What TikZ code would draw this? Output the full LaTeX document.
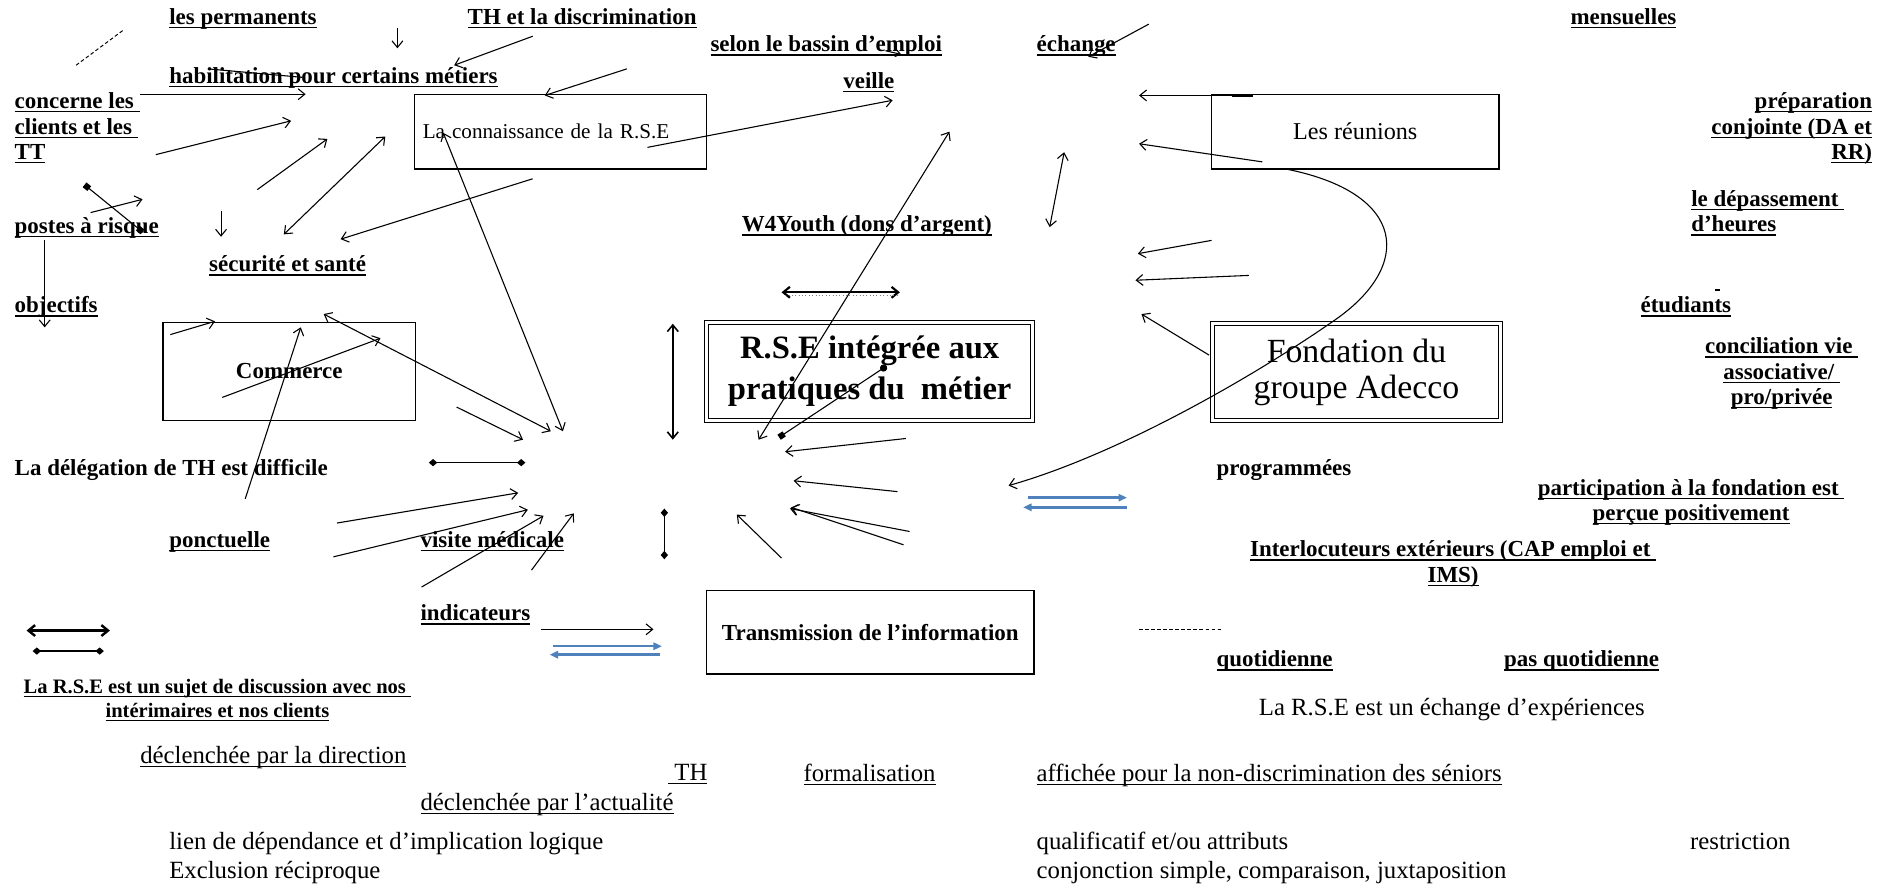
\documentclass[tikz,border=0pt]{standalone}
\usepackage{fontspec}
\setmainfont{Liberation Serif}
\usetikzlibrary{arrows.meta}
\definecolor{wblue}{RGB}{79,129,189}
\newcommand\myul[1]{\setbox0=\hbox{#1}\rlap{\vrule height -2pt depth 3.1pt width \wd0}\box0}
\begin{document}
\begin{tikzpicture}[x=1pt,y=-1pt,
  lab/.style={anchor=base west, inner sep=0pt, font=\fontsize{19}{21}\selectfont\bfseries},
  labr/.style={anchor=base west, inner sep=0pt, font=\fontsize{20.5}{23}\selectfont},
  txt/.style={anchor=base west, inner sep=0pt, font=\fontsize{20.5}{23}\selectfont},
  box/.style={draw, line width=1.1pt, inner sep=0pt},
  dbox/.style={draw, line width=0.8pt, double, double distance=2.4pt, inner sep=0pt},
  arr/.style={line width=0.9pt, -{Straight Barb[length=5.5pt,width=9pt]}},
  darr/.style={line width=0.9pt, {Straight Barb[length=5.5pt,width=9pt]}-{Straight Barb[length=5.5pt,width=9pt]}},
  dia/.style={line width=1.3pt, {Diamond[length=7pt,width=6pt]}-{Diamond[length=7pt,width=6pt]}},
  sqline/.style={line width=0.9pt, {Square[length=5pt]}-{Square[length=5pt]}},
  csline/.style={line width=0.9pt, {Circle[length=6pt]}-{Square[length=5pt]}},
  bluearr/.style={draw=wblue, line width=2pt, -{Triangle[length=7pt,width=6pt,fill=wblue]}},
  dline/.style={line width=0.8pt, dash pattern=on 3pt off 2pt}
]
\fill[white] (0,0) rectangle (1568,732);
\useasboundingbox (0,0) rectangle (1568,732);

% ---------- labels ----------
\node[lab] (permanents) at (140,20) {\myul{les permanents}};
\node[lab] (thdisc) at (387,20) {\myul{TH et la discrimination}};
\node[lab] (bassin) at (588,43) {\myul{selon le bassin d'emploi}};
\node[lab] (echange) at (858,43) {\myul{échange}};
\node[lab] (mensuelles) at (1300,20) {\myul{mensuelles}};
\node[lab] (habil) at (140,69) {\myul{habilitation pour certains métiers}};
\node[lab] (veille) at (698,73) {\myul{veille}};
\node[lab, align=left] (concerne) at (12,132) {\myul{concerne les\ }\\\myul{clients et les\ }\\\myul{TT}};
\node[lab, anchor=base east, align=right] (prep) at (1550,132) {\myul{préparation}\\\myul{conjointe (DA et}\\\myul{RR)}};
\node[lab, align=left] (depass) at (1400,192) {\myul{le dépassement\ }\\\myul{d'heures}};
\node[lab] (postes) at (12,193) {\myul{postes à risque}};
\node[lab] (w4y) at (614,192) {\myul{W4Youth (dons d'argent)}};
\node[lab] (secu) at (173,225) {\myul{sécurité et santé}};
\node[lab] (objectifs) at (12,259) {\myul{objectifs}};
\node[lab] (etudiants) at (1358,259) {\myul{étudiants}};
\node[lab, anchor=base, align=center] (concil) at (1475,335) {\myul{conciliation vie\ }\\\myul{associative/\ }\\\myul{pro/privée}};
\node[lab] (delegation) at (12,394) {La délégation de TH est difficile};
\node[lab] (programmees) at (1007,394) {programmées};
\node[lab, anchor=base, align=center] (particip) at (1400,431) {\myul{participation à la fondation est\ }\\\myul{perçue positivement}};
\node[lab] (ponctuelle) at (140,453) {\myul{ponctuelle}};
\node[lab] (visite) at (348,453) {\myul{visite médicale}};
\node[lab, anchor=base, align=center] (interloc) at (1203,482) {\myul{Interlocuteurs extérieurs (CAP emploi et\ }\\\myul{IMS)}};
\node[lab] (indicateurs) at (348,514) {\myul{indicateurs}};
\node[lab] (quotid) at (1007,552) {\myul{quotidienne}};
\node[lab] (pasquotid) at (1245,552) {\myul{pas quotidienne}};
\node[lab, anchor=base, align=center, font=\fontsize{17}{20}\selectfont\bfseries] (discussion) at (180,594) {\myul{La R.S.E est un sujet de discussion avec nos\ }\\\myul{intérimaires et nos clients}};
\node[txt] (echexp) at (1042,592) {La R.S.E est un échange d'expériences};
\node[labr] (direction) at (116,632) {\myul{déclenchée par la direction}};
\node[labr] (th) at (553,646) {\myul{\ TH}};
\node[labr] (formal) at (665,647) {\myul{formalisation}};
\node[labr] (affichee) at (858,647) {\myul{affichée pour la non-discrimination des séniors}};
\node[labr] (actualite) at (348,671) {\myul{déclenchée par l'actualité}};
\node[txt] (lien) at (140,703) {lien de dépendance et d'implication logique};
\node[txt] (qualif) at (858,703) {qualificatif et/ou attributs};
\node[txt] (restriction) at (1399,703) {restriction};
\node[txt] (exclusion) at (140,727) {Exclusion réciproque};
\node[txt] (conjonction) at (858,727) {conjonction simple, comparaison, juxtaposition};

% ---------- boxes ----------
\node[box, text width=228pt, align=left, inner xsep=7pt, minimum height=62pt, font=\fontsize{17.5}{20}\selectfont] (connaissance) at (464,109) {La connaissance de la R.S.E};
\node[box, minimum width=238pt, minimum height=62pt, font=\fontsize{20}{22}\selectfont] (reunions) at (1122,109) {Les réunions};
\node[box, minimum width=209pt, minimum height=81pt, font=\fontsize{19}{21}\selectfont\bfseries] (commerce) at (239.5,307.5) {Commerce};
\node[dbox, minimum width=270pt, minimum height=81pt, align=center, font=\fontsize{27}{34}\selectfont\bfseries] (rse) at (720,307.5) {R.S.E intégrée aux\\pratiques du\ \ métier};
\node[dbox, minimum width=238pt, minimum height=80pt, align=center, font=\fontsize{28}{30}\selectfont] (fondation) at (1123,308) {Fondation du\\groupe Adecco};
\node[box, minimum width=271pt, minimum height=69pt, font=\fontsize{19}{21}\selectfont\bfseries] (transmission) at (720.5,523.5) {Transmission de l'information};

% ---------- coordinates ----------
\coordinate (d1a) at (63,54);   \coordinate (d1b) at (102,25);
\coordinate (a2a) at (329,23);  \coordinate (a2b) at (329,40);
\coordinate (a3a) at (441,30);  \coordinate (a3b) at (376,54);
\coordinate (a4a) at (519,57);  \coordinate (a4b) at (451,79);
\coordinate (l5a) at (172,57);  \coordinate (l5b) at (250,64);
\coordinate (a6a) at (116,78);  \coordinate (a6b) at (253,78);
\coordinate (a7a) at (129,128); \coordinate (a7b) at (241,100);
\coordinate (a8a) at (213,157); \coordinate (a8b) at (271,115);
\coordinate (a9a) at (235,194); \coordinate (a9b) at (319,113);
\coordinate (s10a) at (70,153); \coordinate (s10b) at (118,192);
\coordinate (a11a) at (75,176); \coordinate (a11b) at (118,165);
\coordinate (a12a) at (183,175); \coordinate (a12b) at (183,196);
\coordinate (a13a) at (441,148); \coordinate (a13b) at (282,198);
\coordinate (a14a) at (37,199); \coordinate (a14b) at (37,271);
\coordinate (a15a) at (367,110); \coordinate (a15b) at (466,357);
\coordinate (a16a) at (536,122); \coordinate (a16b) at (739,83);
\coordinate (a17a) at (141,277); \coordinate (a17b) at (178,266);
\coordinate (a18a) at (184,329); \coordinate (a18b) at (315,280);
\coordinate (a19a) at (203,413); \coordinate (a19b) at (249,271);
\coordinate (a20a) at (268,260); \coordinate (a20b) at (456,357);
\coordinate (a21a) at (378,337); \coordinate (a21b) at (433,364);
\coordinate (x22a) at (355,383); \coordinate (x22b) at (435,383);
\coordinate (a23a) at (279,433); \coordinate (a23b) at (429,408);
\coordinate (a24a) at (276,461); \coordinate (a24b) at (437,422);
\coordinate (a25a) at (349,486); \coordinate (a25b) at (450,427);
\coordinate (a26a) at (440,472); \coordinate (a26b) at (475,425);
\coordinate (x27a) at (550,421); \coordinate (x27b) at (550,463);
\coordinate (a28a) at (557,268); \coordinate (a28b) at (557,364);
\coordinate (g29a) at (22,522); \coordinate (g29b) at (91,522);
\coordinate (g30a) at (27,539); \coordinate (g30b) at (86,539);
\coordinate (a31a) at (448,521); \coordinate (a31b) at (541,521);
\coordinate (b32a) at (458,535); \coordinate (b32b) at (548,535);
\coordinate (b32c) at (546,542); \coordinate (b32d) at (455,542);
\coordinate (a33a) at (733,42); \coordinate (a33b) at (746,45);
\coordinate (a34a) at (951,20); \coordinate (a34b) at (901,47);
\coordinate (a35a) at (786,109); \coordinate (a35b) at (628,364);
\coordinate (c36a) at (734,303); \coordinate (c36b) at (645,362);
\coordinate (a37a) at (750,363); \coordinate (a37b) at (650,374);
\coordinate (a38a) at (743,407); \coordinate (a38b) at (657,398);
\coordinate (a39a) at (753,440); \coordinate (a39b) at (654,421);
\coordinate (a40a) at (748,451); \coordinate (a40b) at (655,420);
\coordinate (a41a) at (647,462); \coordinate (a41b) at (610,426);
\coordinate (k42a) at (1065,140); \coordinate (k42m) at (1105,265); \coordinate (k42b) at (835,402);
\coordinate (b43a) at (851,412); \coordinate (b43b) at (933,412);
\coordinate (b43c) at (933,420); \coordinate (b43d) at (847,420);
\coordinate (d44a) at (943,521); \coordinate (d44b) at (1011,521);
\coordinate (a45a) at (1037,79); \coordinate (a45b) at (943,79);
\coordinate (t45a) at (1020,79);
\coordinate (a46a) at (1045,134); \coordinate (a46b) at (943,119);
\coordinate (a47a) at (881,126); \coordinate (a47b) at (869,188);
\coordinate (a48a) at (1003,199); \coordinate (a48b) at (942,210);
\coordinate (a49a) at (1034,228); \coordinate (a49b) at (940,232);
\coordinate (a50a) at (1001,294); \coordinate (a50b) at (945,260);
\coordinate (w51a) at (647,242); \coordinate (w51b) at (745,242);
\coordinate (w51c) at (650,244.5); \coordinate (w51d) at (745,244.5);
\coordinate (m52a) at (1420,240); \coordinate (m52b) at (1424,240);

% ---------- connectors ----------
\draw[dline] (d1a) -- (d1b);
\draw[arr] (a2a) -- (a2b);
\draw[arr] (a3a) -- (a3b);
\draw[arr] (a4a) -- (a4b);
\draw[line width=0.9pt] (l5a) -- (l5b);
\draw[arr] (a6a) -- (a6b);
\draw[arr] (a7a) -- (a7b);
\draw[arr] (a8a) -- (a8b);
\draw[darr] (a9a) -- (a9b);
\draw[sqline] (s10a) -- (s10b);
\draw[arr] (a11a) -- (a11b);
\draw[arr] (a12a) -- (a12b);
\draw[arr] (a13a) -- (a13b);
\draw[arr] (a14a) -- (a14b);
\draw[darr] (a15a) -- (a15b);
\draw[arr] (a16a) -- (a16b);
\draw[arr] (a17a) -- (a17b);
\draw[arr] (a18a) -- (a18b);
\draw[arr] (a19a) -- (a19b);
\draw[darr] (a20a) -- (a20b);
\draw[arr] (a21a) -- (a21b);
\draw[dia] (x22a) -- (x22b);
\draw[arr] (a23a) -- (a23b);
\draw[arr] (a24a) -- (a24b);
\draw[arr] (a25a) -- (a25b);
\draw[arr] (a26a) -- (a26b);
\draw[dia] (x27a) -- (x27b);
\draw[darr, line width=1.3pt] (a28a) -- (a28b);
\draw[darr, line width=2pt] (g29a) -- (g29b);
\draw[dia] (g30a) -- (g30b);
\draw[arr] (a31a) -- (a31b);
\draw[bluearr] (b32a) -- (b32b);
\draw[bluearr] (b32c) -- (b32d);
\draw[arr, -{Straight Barb[length=4pt,width=6pt]}] (a33a) -- (a33b);
\draw[arr] (a34a) -- (a34b);
\draw[darr] (a35a) -- (a35b);
\draw[csline] (c36a) -- (c36b);
\draw[arr] (a37a) -- (a37b);
\draw[arr] (a38a) -- (a38b);
\draw[arr] (a39a) -- (a39b);
\draw[arr] (a40a) -- (a40b);
\draw[arr] (a41a) -- (a41b);
\draw[arr] (k42a) .. controls (1165,160) and (1170,220) .. (k42m)
                 .. controls (1045,307) and (930,375) .. (k42b);
\draw[bluearr] (b43a) -- (b43b);
\draw[bluearr] (b43c) -- (b43d);
\draw[dline] (d44a) -- (d44b);
\draw[arr] (a45a) -- (a45b);
\draw[line width=2.5pt] (t45a) -- (a45a);
\draw[arr] (a46a) -- (a46b);
\draw[darr] (a47a) -- (a47b);
\draw[arr] (a48a) -- (a48b);
\draw[arr] (a49a) -- (a49b);
\draw[arr] (a50a) -- (a50b);
\draw[darr, line width=1.8pt] (w51a) -- (w51b);
\draw[line width=0.8pt, gray, dotted] (w51c) -- (w51d);
\draw[line width=1pt] (m52a) -- (m52b);
\end{tikzpicture}
\end{document}
